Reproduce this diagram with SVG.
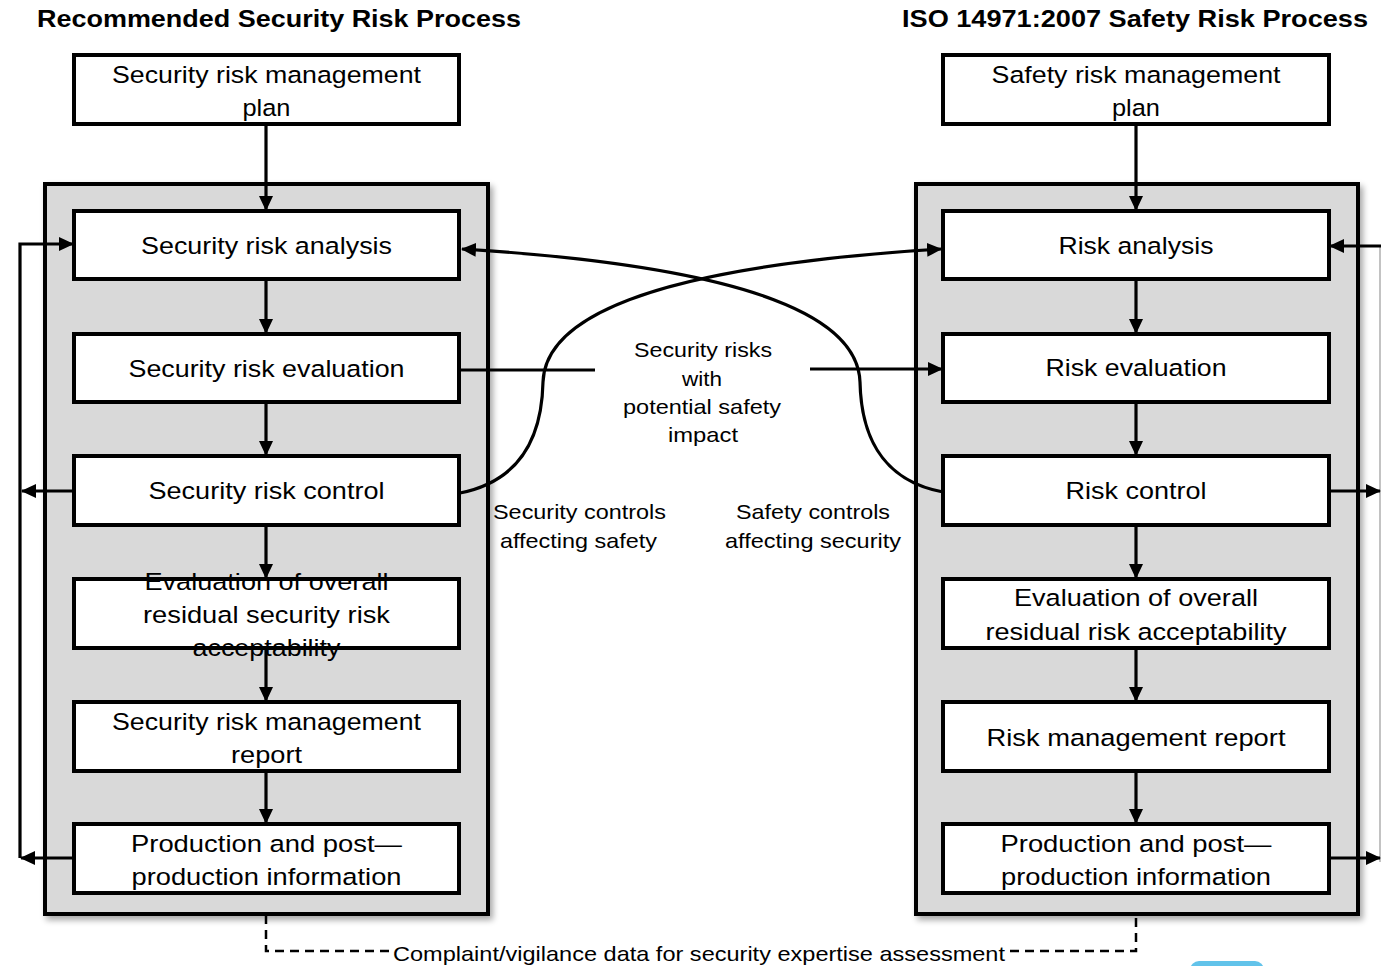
<svg xmlns="http://www.w3.org/2000/svg" width="1381" height="966" viewBox="0 0 1381 966">
  <style>
    .title { font-family: "Liberation Sans", Arial, sans-serif; font-weight: bold; font-size: 23px; fill: #000; }
    .lbl { font-family: "Liberation Sans", Arial, sans-serif; font-size: 24.5px; fill: #000; text-anchor: middle; }
    .note { font-family: "Liberation Sans", Arial, sans-serif; font-size: 21px; fill: #000; text-anchor: middle; }
    .panel { fill: #d9d9d9; stroke: #000; stroke-width: 4; }
    .box { fill: #fff; stroke: #000; stroke-width: 4; }
    .wire { fill: none; stroke: #000; stroke-width: 3.2; }
    .dash { fill: none; stroke: #000; stroke-width: 2.5; stroke-dasharray: 9 6; }
  </style>
  <defs>
    <marker id="head" viewBox="0 0 15 14" refX="14" refY="7" markerWidth="15" markerHeight="14" markerUnits="userSpaceOnUse" orient="auto">
      <path d="M0,0 L15,7 L0,14 Z" fill="#000"/>
    </marker>
    <filter id="shadow" x="-5%" y="-5%" width="115%" height="115%">
      <feGaussianBlur in="SourceAlpha" stdDeviation="3"/>
      <feOffset dx="3" dy="4" result="b"/>
      <feComponentTransfer><feFuncA type="linear" slope="0.35"/></feComponentTransfer>
      <feMerge><feMergeNode/><feMergeNode in="SourceGraphic"/></feMerge>
    </filter>
  </defs>

  <rect width="1381" height="966" fill="#fff"/>

  <!-- column headings -->
  <text class="title" x="37" y="27" textLength="484" lengthAdjust="spacingAndGlyphs">Recommended Security Risk Process</text>
  <text class="title" x="902" y="27" textLength="466" lengthAdjust="spacingAndGlyphs">ISO 14971:2007 Safety Risk Process</text>

  <!-- process panels -->
  <g id="panel-security">
    <rect class="panel" x="45" y="184" width="443" height="730" filter="url(#shadow)"/>
  </g>
  <g id="panel-safety">
    <rect class="panel" x="916" y="184" width="442" height="730" filter="url(#shadow)"/>
  </g>

  <!-- connectors -->
  <g id="connectors">
    <!-- security chain -->
    <line class="wire" x1="266" y1="125" x2="266" y2="210" marker-end="url(#head)"/>
    <line class="wire" x1="266" y1="280" x2="266" y2="333" marker-end="url(#head)"/>
    <line class="wire" x1="266" y1="403" x2="266" y2="455" marker-end="url(#head)"/>
    <line class="wire" x1="266" y1="526" x2="266" y2="578" marker-end="url(#head)"/>
    <line class="wire" x1="266" y1="649" x2="266" y2="701" marker-end="url(#head)"/>
    <line class="wire" x1="266" y1="772" x2="266" y2="823" marker-end="url(#head)"/>
    <!-- safety chain -->
    <line class="wire" x1="1136" y1="125" x2="1136" y2="210" marker-end="url(#head)"/>
    <line class="wire" x1="1136" y1="280" x2="1136" y2="333" marker-end="url(#head)"/>
    <line class="wire" x1="1136" y1="403" x2="1136" y2="455" marker-end="url(#head)"/>
    <line class="wire" x1="1136" y1="526" x2="1136" y2="578" marker-end="url(#head)"/>
    <line class="wire" x1="1136" y1="649" x2="1136" y2="701" marker-end="url(#head)"/>
    <line class="wire" x1="1136" y1="772" x2="1136" y2="823" marker-end="url(#head)"/>

    <!-- left feedback loop -->
    <polyline class="wire" points="20,858 20,244 73,244" marker-end="url(#head)"/>
    <line class="wire" x1="74" y1="491" x2="22" y2="491" marker-end="url(#head)"/>
    <line class="wire" x1="74" y1="858" x2="21" y2="858" marker-end="url(#head)"/>

    <!-- right feedback loop -->
    <line x1="1380" y1="246" x2="1380" y2="862" stroke="#9a9a9a" stroke-width="1.2"/>
    <line class="wire" x1="1381" y1="246" x2="1330" y2="246" marker-end="url(#head)"/>
    <line class="wire" x1="1329" y1="491" x2="1380" y2="491" marker-end="url(#head)"/>
    <line class="wire" x1="1329" y1="858" x2="1380" y2="858" marker-end="url(#head)"/>

    <!-- security risks with potential safety impact -->
    <line class="wire" x1="459" y1="370" x2="595" y2="370"/>
    <line class="wire" x1="810" y1="369" x2="942" y2="369" marker-end="url(#head)"/>

    <!-- cross-over control paths -->
    <path class="wire" d="M460,493 C525,480 542,430 543,382 C545,322 635,268 941,249" marker-end="url(#head)"/>
    <path class="wire" d="M943,492 C878,480 861,430 860,382 C858,322 768,268 462,249" marker-end="url(#head)"/>

    <!-- complaint / vigilance feedback -->
    <polyline class="dash" points="266,915 266,951 390,951"/>
    <polyline class="dash" points="1010,951 1136,951 1136,915"/>
  </g>

  <!-- security process nodes -->
  <g id="sec-plan">
    <rect class="box" x="74" y="55" width="385" height="69"/>
    <text class="lbl" x="266.5" y="83" textLength="309" lengthAdjust="spacingAndGlyphs">Security risk management</text>
    <text class="lbl" x="266.5" y="116" textLength="48" lengthAdjust="spacingAndGlyphs">plan</text>
  </g>
  <g id="sec-analysis">
    <rect class="box" x="74" y="211" width="385" height="68"/>
    <text class="lbl" x="266.5" y="254" textLength="251" lengthAdjust="spacingAndGlyphs">Security risk analysis</text>
  </g>
  <g id="sec-evaluation">
    <rect class="box" x="74" y="334" width="385" height="68"/>
    <text class="lbl" x="266.5" y="377" textLength="276" lengthAdjust="spacingAndGlyphs">Security risk evaluation</text>
  </g>
  <g id="sec-control">
    <rect class="box" x="74" y="456" width="385" height="69"/>
    <text class="lbl" x="266.5" y="499" textLength="236" lengthAdjust="spacingAndGlyphs">Security risk control</text>
  </g>
  <g id="sec-residual">
    <rect class="box" x="74" y="579" width="385" height="69"/>
    <text class="lbl" x="266.5" y="590" textLength="244" lengthAdjust="spacingAndGlyphs">Evaluation of overall</text>
    <text class="lbl" x="266.5" y="623" textLength="247" lengthAdjust="spacingAndGlyphs">residual security risk</text>
    <text class="lbl" x="266.5" y="656" textLength="148" lengthAdjust="spacingAndGlyphs">acceptability</text>
  </g>
  <g id="sec-report">
    <rect class="box" x="74" y="702" width="385" height="69"/>
    <text class="lbl" x="266.5" y="730" textLength="309" lengthAdjust="spacingAndGlyphs">Security risk management</text>
    <text class="lbl" x="266.5" y="763" textLength="71" lengthAdjust="spacingAndGlyphs">report</text>
  </g>
  <g id="sec-production">
    <rect class="box" x="74" y="824" width="385" height="69"/>
    <text class="lbl" x="266.5" y="852" textLength="271" lengthAdjust="spacingAndGlyphs">Production and post—</text>
    <text class="lbl" x="266.5" y="885" textLength="270" lengthAdjust="spacingAndGlyphs">production information</text>
  </g>

  <!-- safety process nodes -->
  <g id="saf-plan">
    <rect class="box" x="943" y="55" width="386" height="69"/>
    <text class="lbl" x="1136" y="83" textLength="289" lengthAdjust="spacingAndGlyphs">Safety risk management</text>
    <text class="lbl" x="1136" y="116" textLength="48" lengthAdjust="spacingAndGlyphs">plan</text>
  </g>
  <g id="saf-analysis">
    <rect class="box" x="943" y="211" width="386" height="68"/>
    <text class="lbl" x="1136" y="254" textLength="155" lengthAdjust="spacingAndGlyphs">Risk analysis</text>
  </g>
  <g id="saf-evaluation">
    <rect class="box" x="943" y="334" width="386" height="68"/>
    <text class="lbl" x="1136" y="376" textLength="181" lengthAdjust="spacingAndGlyphs">Risk evaluation</text>
  </g>
  <g id="saf-control">
    <rect class="box" x="943" y="456" width="386" height="69"/>
    <text class="lbl" x="1136" y="499" textLength="141" lengthAdjust="spacingAndGlyphs">Risk control</text>
  </g>
  <g id="saf-residual">
    <rect class="box" x="943" y="579" width="386" height="69"/>
    <text class="lbl" x="1136" y="606" textLength="244" lengthAdjust="spacingAndGlyphs">Evaluation of overall</text>
    <text class="lbl" x="1136" y="640" textLength="301" lengthAdjust="spacingAndGlyphs">residual risk acceptability</text>
  </g>
  <g id="saf-report">
    <rect class="box" x="943" y="702" width="386" height="69"/>
    <text class="lbl" x="1136" y="746" textLength="299" lengthAdjust="spacingAndGlyphs">Risk management report</text>
  </g>
  <g id="saf-production">
    <rect class="box" x="943" y="824" width="386" height="69"/>
    <text class="lbl" x="1136" y="852" textLength="271" lengthAdjust="spacingAndGlyphs">Production and post—</text>
    <text class="lbl" x="1136" y="885" textLength="270" lengthAdjust="spacingAndGlyphs">production information</text>
  </g>

  <!-- free labels -->
  <g id="label-impact">
    <text class="note" x="703" y="357" textLength="138" lengthAdjust="spacingAndGlyphs">Security risks</text>
    <text class="note" x="702" y="386" textLength="40" lengthAdjust="spacingAndGlyphs">with</text>
    <text class="note" x="702" y="414" textLength="158" lengthAdjust="spacingAndGlyphs">potential safety</text>
    <text class="note" x="703" y="442" textLength="70" lengthAdjust="spacingAndGlyphs">impact</text>
  </g>
  <g id="label-sec-controls">
    <text class="note" x="579.5" y="519" textLength="173" lengthAdjust="spacingAndGlyphs">Security controls</text>
    <text class="note" x="578.5" y="548" textLength="157" lengthAdjust="spacingAndGlyphs">affecting safety</text>
  </g>
  <g id="label-saf-controls">
    <text class="note" x="813" y="519" textLength="154" lengthAdjust="spacingAndGlyphs">Safety controls</text>
    <text class="note" x="813" y="548" textLength="176" lengthAdjust="spacingAndGlyphs">affecting security</text>
  </g>
  <g id="label-complaint">
    <text class="note" x="699" y="961" textLength="612" lengthAdjust="spacingAndGlyphs">Complaint/vigilance data for security expertise assessment</text>
  </g>

  <!-- corner tab -->
  <rect x="1190" y="961" width="74" height="20" rx="9" fill="#62c3ea"/>
</svg>
